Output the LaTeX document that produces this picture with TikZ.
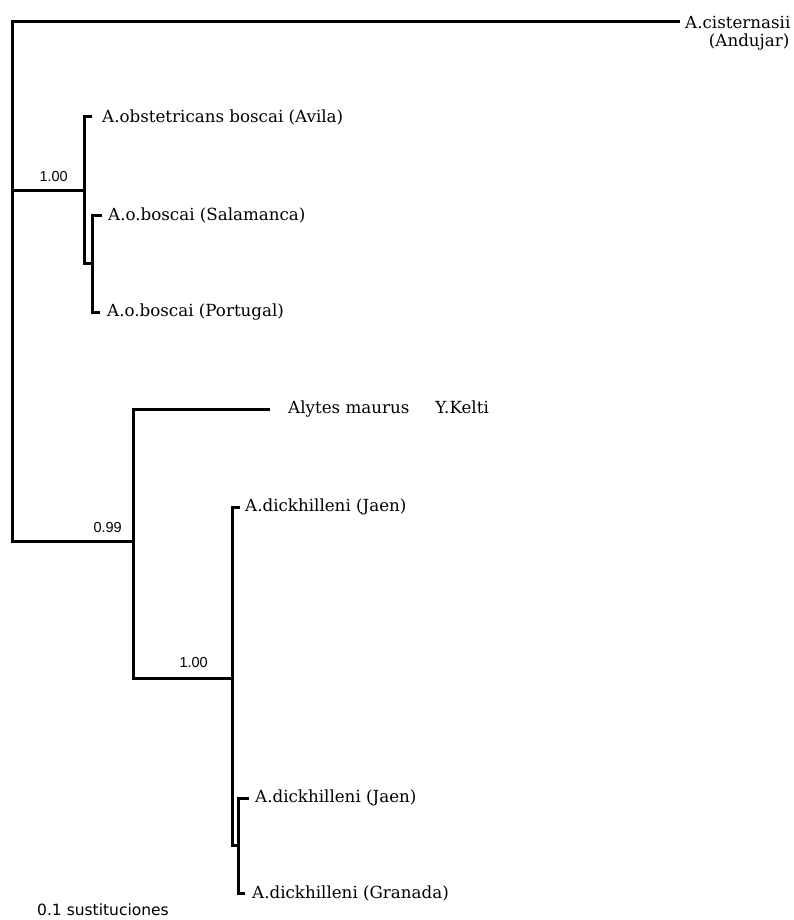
\documentclass[tikz,border=0pt]{standalone}
\usepackage{fontspec}
\usepackage{tikz}
\usetikzlibrary{positioning}
\newfontfamily\leaffont{DejaVu Serif}
\newfontfamily\suppfont{Liberation Sans}
\newfontfamily\sustfont{DejaVu Sans}

\begin{document}
\begin{tikzpicture}[
    x=1pt, y=-1pt,
    branch/.style={line width=3pt, black, line join=miter, line cap=rect},
    leaf/.style={anchor=west, inner xsep=8pt, inner ysep=1pt, font=\leaffont\fontsize{16.7}{19}\selectfont},
    support/.style={inner sep=0pt, font=\suppfont\fontsize{14.5}{16}\selectfont}
]
\useasboundingbox (0,0) rectangle (793,920);

% internal nodes
\coordinate (root) at (12,541);
\coordinate (obst) at (84,190);
\coordinate (obstin) at (92,263);
\coordinate (maur) at (133,541);
\coordinate (dick) at (232,678);
\coordinate (dickin) at (238,845);

% leaves
\node[leaf, inner xsep=7pt] (cist) at (678,22) {A.cisternasii};
\node[leaf, inner xsep=0pt, anchor=north east] (andujar) at ([shift={(-8pt,-3pt)}]cist.south east) {(Andujar)};
\node[leaf, inner xsep=12pt] (avila) at (90,117) {A.obstetricans boscai (Avila)};
\node[leaf] (salamanca) at (100,215) {A.o.boscai (Salamanca)};
\node[leaf, inner xsep=9pt] (portugal) at (98,312) {A.o.boscai (Portugal)};
\node[leaf, inner xsep=20pt] (maurus) at (268,409) {Alytes maurus\hspace{26pt}Y.Kelti};
\node[leaf, inner xsep=7pt] (jaen) at (238,507) {A.dickhilleni (Jaen)};
\node[leaf] (jaentwo) at (247,798) {A.dickhilleni (Jaen)};
\node[leaf, inner xsep=9pt] (granada) at (243,893) {A.dickhilleni (Granada)};

% branches
\draw[branch] (root) |- (cist.west);
\draw[branch] (root) |- (obst);
\draw[branch] (root) -- (maur);
\draw[branch] (obst) |- (avila.west);
\draw[branch] (obst) |- (obstin);
\draw[branch] (obstin) |- (salamanca.west);
\draw[branch] (obstin) |- (portugal.west);
\draw[branch] (maur) |- (maurus.west);
\draw[branch] (maur) |- (dick);
\draw[branch] (dick) |- (jaen.west);
\draw[branch] (dick) |- (dickin);
\draw[branch] (dickin) |- (jaentwo.west);
\draw[branch] (dickin) |- (granada.west);

% support values
\node[support, above left=8pt and 16pt of obst] (sobst) {1.00};
\node[support, above left=8pt and 11pt of maur] (smaur) {0.99};
\node[support, above left=10pt and 24pt of dick] (sdick) {1.00};

\node[anchor=west, inner sep=0pt, font=\sustfont\fontsize{15.5}{18}\selectfont] (scale) at (37,910) {0.1 sustituciones};
\end{tikzpicture}
\end{document}
